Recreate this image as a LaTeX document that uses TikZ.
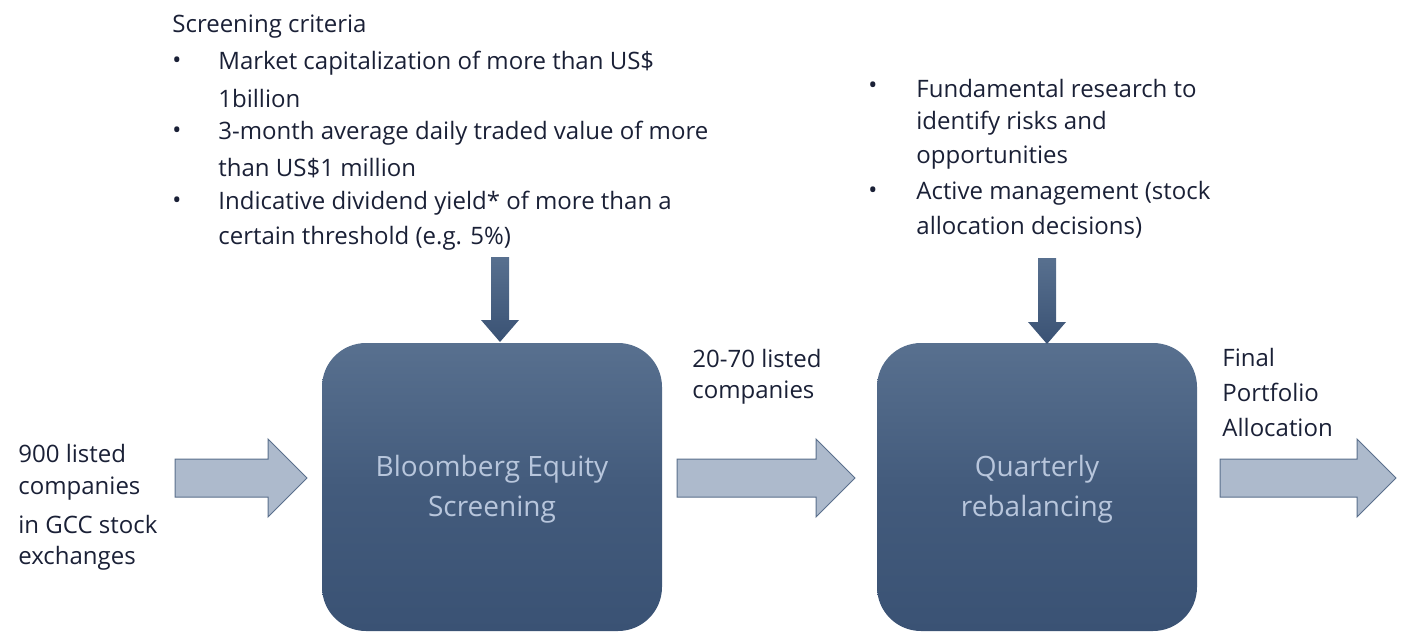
\documentclass[tikz,border=0pt]{standalone}
\usepackage{fontspec}
\setmainfont{Open Sans}
\usetikzlibrary{shapes.arrows}
\definecolor{txt}{HTML}{1A2036}
\definecolor{btop}{HTML}{58708F}
\definecolor{bbot}{HTML}{3A5274}
\definecolor{afill}{HTML}{ADBACC}
\definecolor{aline}{HTML}{5A6F8C}
\definecolor{btxt}{HTML}{B8C6DC}
\begin{document}
\begin{tikzpicture}[x=0.5pt,y=-0.5pt,
  t/.style={anchor=west,inner sep=0pt,text=txt,font=\fontsize{12}{14}\selectfont},
  box/.style={rounded corners=22pt,top color=btop,bottom color=bbot,middle color=bbot!70!btop,draw=none},
  btext/.style={text=btxt,font=\fontsize{14}{20}\selectfont,align=center},
  barr/.style={fill=afill,draw=aline,line width=0.5pt},
  darr/.style={top color=btop,bottom color=bbot,draw=none}]
\useasboundingbox (0,0) rectangle (1408,632);
% boxes
\path[box] (322,343) rectangle (662,631);
\path[box] (877,343) rectangle (1197,631);
\node[btext] (b1) at (492,489) {Bloomberg Equity\\Screening};
\node[btext] (b2) at (1037,489) {Quarterly\\rebalancing};
% block arrows
\draw[barr] (175,459)--(268,459)--(268,439)--(307,478)--(268,517)--(268,497)--(175,497)--cycle;
\draw[barr] (677,459)--(816,459)--(816,439)--(855,478)--(816,517)--(816,497)--(677,497)--cycle;
\draw[barr] (1220,459)--(1357,459)--(1357,439)--(1396,478)--(1357,517)--(1357,497)--(1220,497)--cycle;
% down arrows
\path[darr] (491,257)--(509,257)--(509,320)--(519,320)--(500,342)--(481,320)--(491,320)--cycle;
\path[darr] (1038,258)--(1056,258)--(1056,322)--(1066,322)--(1047,344)--(1028,322)--(1038,322)--cycle;
% top-left text
\node[t] (s0) at (172,27) {Screening criteria};
\foreach \y in {63,133,203} \node[t] at (172,\y) {•};
\node[t] at (218,63) {Market capitalization of more than US\$};
\node[t] at (218,98) {1billion};
\node[t] at (218,133) {3-month average daily traded value of more};
\node[t] at (218,168) {than US\$1 million};
\node[t] at (218,203) {Indicative dividend yield* of more than a};
\node[t] at (218,238) {certain threshold (e.g. 5\%)};
% top-right text
\foreach \y in {88,193} \node[t] at (868,\y) {•};
\node[t] at (916,88) {Fundamental research to};
\node[t] at (916,123) {identify risks and};
\node[t] at (916,158) {opportunities};
\node[t] at (916,193) {Active management (stock};
\node[t] at (916,227) {allocation decisions)};
% side labels
\node[t] at (18,453) {900 listed};
\node[t] at (18,489) {companies};
\node[t] at (18,524) {in GCC stock};
\node[t] at (18,558) {exchanges};
\node[t] at (692,358) {20-70 listed};
\node[t] at (692,393) {companies};
\node[t] at (1222,357) {Final};
\node[t] at (1222,392) {Portfolio};
\node[t] at (1222,427) {Allocation};
\end{tikzpicture}
\end{document}
